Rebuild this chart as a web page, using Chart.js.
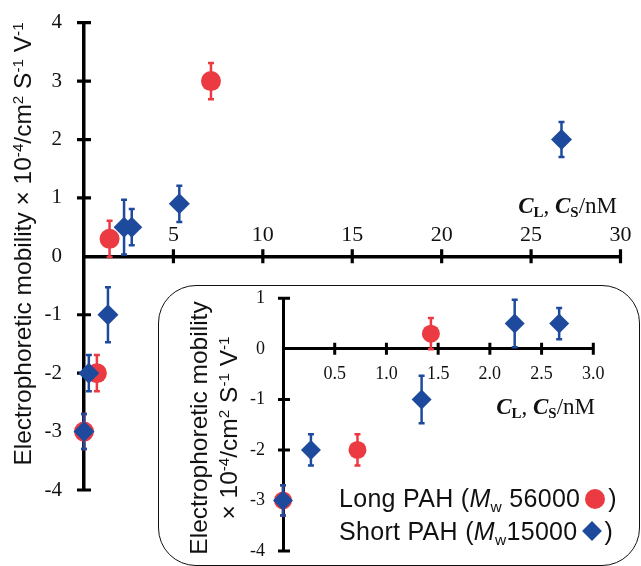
<!DOCTYPE html>
<html><head><meta charset="utf-8">
<script src="https://cdn.jsdelivr.net/npm/chart.js@4.4.0/dist/chart.umd.min.js"></script>
<style>
html,body{margin:0;padding:0;background:#fff;}
#wrap{position:relative;width:641px;height:566px;overflow:hidden;background:#fff;}
canvas{position:absolute;}
#main{left:0;top:0;}
#box{position:absolute;left:158px;top:285px;width:482px;height:281px;box-sizing:border-box;border:1.6px solid #111;border-radius:38px;background:#fff;}
#inset{left:160px;top:286px;}
.ytitle{position:absolute;font-family:'Liberation Sans',Arial,sans-serif;font-size:24.5px;color:#111;white-space:nowrap;text-align:center;transform:rotate(-90deg);transform-origin:50% 50%;}
.ytitle sup{font-size:0.62em;vertical-align:0.55em;line-height:0;}
.xtitle{position:absolute;font-family:'Liberation Serif','Times New Roman',serif;font-size:23px;line-height:23px;color:#111;white-space:nowrap;}
.xtitle i{font-weight:bold;}
.xtitle sub{font-size:0.65em;font-weight:bold;vertical-align:-0.3em;line-height:0;}
#legend{position:absolute;left:339px;top:482px;font-family:'Liberation Sans',Arial,sans-serif;font-size:25px;letter-spacing:0.3px;line-height:33px;color:#111;white-space:nowrap;}
#legend sub{font-size:0.62em;vertical-align:-0.3em;line-height:0;}
.mk-c{display:inline-block;width:20px;height:20px;border-radius:50%;vertical-align:-1.6px;margin:0 3px 0 5px;}
.mk-d{display:inline-block;width:14px;height:14px;transform:rotate(45deg);vertical-align:1.6px;margin:0 6px 0 7px;}
</style></head>
<body>
<div id="wrap">
  <canvas id="main" width="641" height="566"></canvas>
  <div class="ytitle" style="left:-237px;top:228.5px;width:520px;height:30px;line-height:30px;">Electrophoretic mobility × 10<sup>-4</sup>/cm<sup>2</sup> S<sup>-1</sup> V<sup>-1</sup></div>
  <div class="xtitle" style="right:24px;top:194px;"><i>C</i><sub>L</sub>, <i>C</i><sub>S</sub>/nM</div>
  <div id="box"></div>
  <canvas id="inset" width="481" height="280"></canvas>
  <div class="ytitle" style="left:64px;top:398px;width:300px;height:60px;line-height:30px;">Electrophoretic mobility<br>× 10<sup>-4</sup>/cm<sup>2</sup> S<sup>-1</sup> V<sup>-1</sup></div>
  <div class="xtitle" style="right:46px;top:395px;"><i>C</i><sub>L</sub>, <i>C</i><sub>S</sub>/nM</div>
  <div id="legend">
    <div>Long PAH (<i>M</i><sub>w</sub> 56000<span class="mk-c" id="mkRed"></span>)</div>
    <div>Short PAH (<i>M</i><sub>w</sub>15000<span class="mk-d" id="mkBlue"></span>)</div>
  </div>
</div>
<script>
// ---- data ----
const LONG_X   = [0, 0.72, 1.43, 7.1];
const LONG_Y   = [-3, -2, 0.3, 3];
const LONG_ERR = [0.3, 0.31, 0.31, 0.31];

const SHORT_X   = [0, 0.27, 1.34, 2.24, 2.67, 5.33, 26.7];
const SHORT_Y   = [-3, -2, -1, 0.5, 0.5, 0.9, 2];
const SHORT_ERR = [0.3, 0.31, 0.47, 0.47, 0.31, 0.31, 0.3];

const MAIN_X_TICKS = [5, 10, 15, 20, 25, 30];
const MAIN_Y_TICKS = [-4, -3, -2, -1, 0, 1, 2, 3, 4];
const INSET_X_TICKS = [0.5, 1.0, 1.5, 2.0, 2.5, 3.0];
const INSET_X_LABELS = ['0.5', '1.0', '1.5', '2.0', '2.5', '3.0'];
const INSET_Y_TICKS = [-4, -3, -2, -1, 0, 1];

const RED = '#ec3a42';
const BLUE = '#1e4a9e';
const SERIF = "'Liberation Serif','Times New Roman',serif";

document.getElementById('mkRed').style.background = RED;
document.getElementById('mkBlue').style.background = BLUE;

function pts(xs, ys, es, maxX) {
  const out = [];
  for (let i = 0; i < xs.length; i++) {
    if (maxX === undefined || xs[i] <= maxX) out.push({x: xs[i], y: ys[i], e: es[i]});
  }
  return out;
}

const axisDeco = {
  id: 'axisDeco',
  beforeDatasetsDraw(chart, args, o) {
    const ctx = chart.ctx, xs = chart.scales.x, ys = chart.scales.y;
    const x0 = xs.getPixelForValue(xs.min), y0 = ys.getPixelForValue(0);
    ctx.save();
    ctx.strokeStyle = '#000';
    ctx.lineWidth = o.tickWidth;
    ctx.lineCap = 'butt';
    ctx.beginPath();
    xs.ticks.forEach(t => {
      if (t.value === xs.min) return;
      const px = xs.getPixelForValue(t.value);
      ctx.moveTo(px, y0 - o.tickLen); ctx.lineTo(px, y0 + o.tickLen);
    });
    ys.ticks.forEach(t => {
      if (t.value === 0) return;
      const py = ys.getPixelForValue(t.value);
      ctx.moveTo(x0 - o.tickLeft, py); ctx.lineTo(x0 + o.tickRight, py);
    });
    ctx.stroke();
    chart.data.datasets.slice().reverse().forEach(ds => {
      ctx.strokeStyle = ds.backgroundColor;
      ctx.lineWidth = o.errWidth;
      ctx.beginPath();
      ds.data.forEach(p => {
        const px = xs.getPixelForValue(p.x);
        const top = ys.getPixelForValue(p.y + p.e), bot = ys.getPixelForValue(p.y - p.e);
        ctx.moveTo(px, top); ctx.lineTo(px, bot);
        ctx.moveTo(px - o.cap, top); ctx.lineTo(px + o.cap, top);
        ctx.moveTo(px - o.cap, bot); ctx.lineTo(px + o.cap, bot);
      });
      ctx.stroke();
    });
    ctx.restore();
  }
};

function setTicks(list) {
  return s => { s.ticks = list.map(v => ({value: v})); };
}

function build(canvas, o) {
  return new Chart(canvas, {
    type: 'scatter',
    data: { datasets: [
      {label: 'Short PAH', data: pts(SHORT_X, SHORT_Y, SHORT_ERR, o.maxX), pointStyle: 'rectRot',
       pointRadius: o.dRadius, backgroundColor: BLUE, pointBackgroundColor: BLUE, borderWidth: 0, pointBorderWidth: 0, order: 0, clip: false},
      {label: 'Long PAH', data: pts(LONG_X, LONG_Y, LONG_ERR, o.maxX), pointStyle: 'circle',
       pointRadius: o.cRadius, backgroundColor: RED, pointBackgroundColor: RED, borderWidth: 0, pointBorderWidth: 0, order: 1, clip: false}
    ]},
    options: {
      responsive: false, animation: false, events: [], devicePixelRatio: 1,
      layout: {padding: o.padding},
      plugins: {legend: {display: false}, tooltip: {enabled: false}, axisDeco: o.deco},
      scales: {
        x: {type: 'linear', position: {y: 0}, min: o.xMin, max: o.xMax,
            afterBuildTicks: setTicks(o.xTicks),
            afterFit: s => { s.paddingLeft = 0; s.paddingRight = 0; },
            grid: {display: false, drawTicks: false},
            border: {display: true, color: '#000', width: o.axisWidth},
            ticks: {font: {family: SERIF, size: o.xFont}, color: '#111', padding: o.xPad, maxRotation: 0, autoSkip: false,
                    callback: o.xLabels ? ((v, i) => o.xLabels[i]) : (v => String(v))}},
        y: {type: 'linear', position: 'left', min: o.yMin, max: o.yMax,
            afterBuildTicks: setTicks(o.yTicks),
            afterFit: s => { s.width = o.yWidth; s.paddingTop = 0; s.paddingBottom = 0; },
            grid: {display: false, drawTicks: false},
            border: {display: true, color: '#000', width: o.axisWidth},
            ticks: {font: {family: SERIF, size: o.yFont}, color: '#111', padding: o.yPad, autoSkip: false,
                    callback: v => String(v)}}
      }
    },
    plugins: [axisDeco]
  });
}

build(document.getElementById('main'), {
  xMin: 0, xMax: 30, yMin: -4, yMax: 4,
  xTicks: MAIN_X_TICKS, yTicks: MAIN_Y_TICKS,
  padding: {left: 0, top: 22.7, right: 20.5, bottom: 76},
  yWidth: 84, xFont: 22, yFont: 21, xPad: -34, yPad: 22, axisWidth: 3.5,
  cRadius: 10, dRadius: 10.5,
  deco: {tickWidth: 3.2, tickLen: 7, tickLeft: 7, tickRight: 7, errWidth: 2.5, cap: 3}
});

build(document.getElementById('inset'), {
  xMin: 0, xMax: 3, yMin: -4, yMax: 1, maxX: 3,
  xTicks: INSET_X_TICKS, xLabels: INSET_X_LABELS, yTicks: INSET_Y_TICKS,
  padding: {left: 0, top: 12.3, right: 47.7, bottom: 15},
  yWidth: 123, xFont: 18, yFont: 18, xPad: 14.5, yPad: 18, axisWidth: 3,
  cRadius: 9, dRadius: 10,
  deco: {tickWidth: 3, tickLen: 6, tickLeft: 5, tickRight: 7, errWidth: 2.5, cap: 3}
});
</script>
</body></html>
